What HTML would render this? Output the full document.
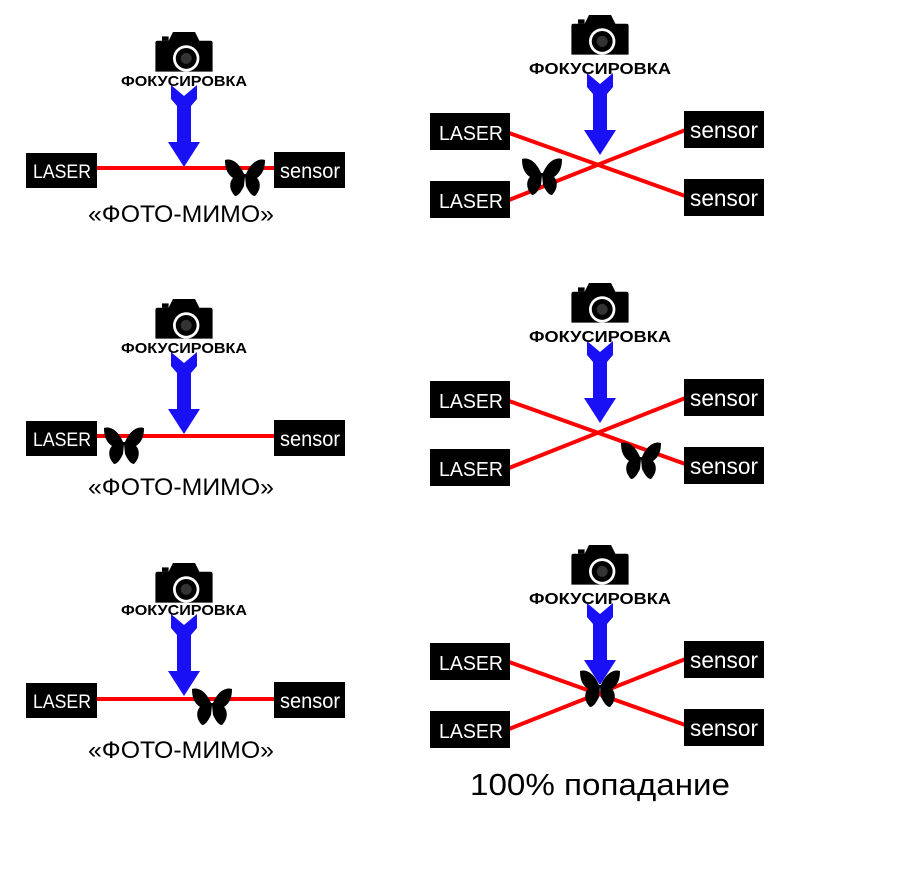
<!DOCTYPE html>
<html><head><meta charset="utf-8"><style>
body{margin:0;background:#fff;}
svg{display:block;}
.t{font-family:"Liberation Sans",sans-serif;}
</style></head><body>
<svg width="899" height="879" viewBox="0 0 899 879" xmlns="http://www.w3.org/2000/svg">
<defs>
<g id="cam">
 <path d="M-24,-12 L-14,-12 L-10,-20 L10,-20 L14,-12 L24,-12 Q26,-12 26,-10 L26,16 L-26,16 L-26,-10 Q-26,-12 -24,-12Z" fill="#000"/>
 <rect x="-20" y="-16" width="6" height="4" fill="#000"/>
 <circle cx="2" cy="4" r="12" fill="#fff"/>
 <circle cx="2" cy="4" r="9.5" fill="#000"/>
 <circle cx="2" cy="4" r="5" fill="#333"/>
</g>
<g id="arr">
 <polygon points="-13,0 0,11 13,0 13,14 7,21 7,57 16,57 0,82 -16,57 -7,57 -7,21 -13,14" fill="#1a10f5"/>
</g>
<g id="bf">
 <path d="M-1,-4 C-6,-16 -14,-20 -20,-18 C-20,-10 -18,-4 -12,0 C-16,4 -16,12 -10,18 C-6,18 -3,12 -1,8 L0,-2 L1,8 C3,12 6,18 10,18 C16,12 16,4 12,0 C18,-4 20,-10 20,-18 C14,-20 6,-16 1,-4 Z" fill="#000"/>
</g>
</defs>

<!-- Left panel 1 -->
<use href="#cam" x="184" y="54" transform="translate(184,54) scale(1.1) translate(-184,-54)"/>
<text x="184" y="86" class="t" font-size="15" font-weight="bold" text-anchor="middle" textLength="126" lengthAdjust="spacingAndGlyphs">ФОКУСИРОВКА</text>
<use href="#arr" x="184" y="85"/>
<line x1="96" y1="168" x2="276" y2="168" stroke="#f00" stroke-width="4"/>
<rect x="26" y="153" width="71" height="35" fill="#000"/>
<text x="62" y="178" class="t" fill="#fff" font-size="19" text-anchor="middle" textLength="58" lengthAdjust="spacingAndGlyphs">LASER</text>
<rect x="274" y="152" width="71" height="36" fill="#000"/>
<text x="310" y="178" class="t" fill="#fff" font-size="21" text-anchor="middle" textLength="60" lengthAdjust="spacingAndGlyphs">sensor</text>
<use href="#bf" x="245" y="178"/>
<text x="181" y="222" class="t" font-size="24" text-anchor="middle" textLength="186" lengthAdjust="spacingAndGlyphs">«ФОТО-МИМО»</text>

<!-- Left panel 2 -->
<use href="#cam" x="184" y="321" transform="translate(184,321) scale(1.1) translate(-184,-321)"/>
<text x="184" y="353" class="t" font-size="15" font-weight="bold" text-anchor="middle" textLength="126" lengthAdjust="spacingAndGlyphs">ФОКУСИРОВКА</text>
<use href="#arr" x="184" y="352"/>
<line x1="96" y1="436" x2="276" y2="436" stroke="#f00" stroke-width="4"/>
<rect x="26" y="421" width="71" height="35" fill="#000"/>
<text x="62" y="446" class="t" fill="#fff" font-size="19" text-anchor="middle" textLength="58" lengthAdjust="spacingAndGlyphs">LASER</text>
<rect x="274" y="420" width="71" height="36" fill="#000"/>
<text x="310" y="446" class="t" fill="#fff" font-size="21" text-anchor="middle" textLength="60" lengthAdjust="spacingAndGlyphs">sensor</text>
<use href="#bf" x="124" y="446"/>
<text x="181" y="495" class="t" font-size="24" text-anchor="middle" textLength="186" lengthAdjust="spacingAndGlyphs">«ФОТО-МИМО»</text>

<!-- Left panel 3 -->
<use href="#cam" x="184" y="585" transform="translate(184,585) scale(1.1) translate(-184,-585)"/>
<text x="184" y="615" class="t" font-size="15" font-weight="bold" text-anchor="middle" textLength="126" lengthAdjust="spacingAndGlyphs">ФОКУСИРОВКА</text>
<use href="#arr" x="184" y="614"/>
<line x1="96" y1="699" x2="276" y2="699" stroke="#f00" stroke-width="4"/>
<rect x="26" y="683" width="71" height="35" fill="#000"/>
<text x="62" y="708" class="t" fill="#fff" font-size="19" text-anchor="middle" textLength="58" lengthAdjust="spacingAndGlyphs">LASER</text>
<rect x="274" y="682" width="71" height="36" fill="#000"/>
<text x="310" y="708" class="t" fill="#fff" font-size="21" text-anchor="middle" textLength="60" lengthAdjust="spacingAndGlyphs">sensor</text>
<use href="#bf" x="212" y="707"/>
<text x="181" y="758" class="t" font-size="24" text-anchor="middle" textLength="186" lengthAdjust="spacingAndGlyphs">«ФОТО-МИМО»</text>

<!-- Right panel 1 -->
<use href="#cam" x="600" y="37" transform="translate(600,37) scale(1.1) translate(-600,-37)"/>
<text x="600" y="74" class="t" font-size="16" font-weight="bold" text-anchor="middle" textLength="142" lengthAdjust="spacingAndGlyphs">ФОКУСИРОВКА</text>
<use href="#arr" x="600" y="73"/>
<line x1="509" y1="133" x2="688" y2="197" stroke="#f00" stroke-width="4"/>
<line x1="509" y1="200" x2="688" y2="129" stroke="#f00" stroke-width="4"/>
<rect x="430" y="113" width="80" height="37" fill="#000"/>
<text x="471" y="140" class="t" fill="#fff" font-size="20" text-anchor="middle" textLength="64" lengthAdjust="spacingAndGlyphs">LASER</text>
<rect x="430" y="181" width="80" height="37" fill="#000"/>
<text x="471" y="208" class="t" fill="#fff" font-size="20" text-anchor="middle" textLength="64" lengthAdjust="spacingAndGlyphs">LASER</text>
<rect x="684" y="111" width="80" height="37" fill="#000"/>
<text x="724" y="138" class="t" fill="#fff" font-size="23" text-anchor="middle" textLength="68" lengthAdjust="spacingAndGlyphs">sensor</text>
<rect x="684" y="179" width="80" height="37" fill="#000"/>
<text x="724" y="206" class="t" fill="#fff" font-size="23" text-anchor="middle" textLength="68" lengthAdjust="spacingAndGlyphs">sensor</text>
<use href="#bf" x="542" y="177"/>

<!-- Right panel 2 -->
<use href="#cam" x="600" y="305" transform="translate(600,305) scale(1.1) translate(-600,-305)"/>
<text x="600" y="342" class="t" font-size="16" font-weight="bold" text-anchor="middle" textLength="142" lengthAdjust="spacingAndGlyphs">ФОКУСИРОВКА</text>
<use href="#arr" x="600" y="341"/>
<line x1="509" y1="401" x2="688" y2="465" stroke="#f00" stroke-width="4"/>
<line x1="509" y1="468" x2="688" y2="397" stroke="#f00" stroke-width="4"/>
<rect x="430" y="381" width="80" height="37" fill="#000"/>
<text x="471" y="408" class="t" fill="#fff" font-size="20" text-anchor="middle" textLength="64" lengthAdjust="spacingAndGlyphs">LASER</text>
<rect x="430" y="449" width="80" height="37" fill="#000"/>
<text x="471" y="476" class="t" fill="#fff" font-size="20" text-anchor="middle" textLength="64" lengthAdjust="spacingAndGlyphs">LASER</text>
<rect x="684" y="379" width="80" height="37" fill="#000"/>
<text x="724" y="406" class="t" fill="#fff" font-size="23" text-anchor="middle" textLength="68" lengthAdjust="spacingAndGlyphs">sensor</text>
<rect x="684" y="447" width="80" height="37" fill="#000"/>
<text x="724" y="474" class="t" fill="#fff" font-size="23" text-anchor="middle" textLength="68" lengthAdjust="spacingAndGlyphs">sensor</text>
<use href="#bf" x="641" y="461"/>

<!-- Right panel 3 -->
<use href="#cam" x="600" y="567" transform="translate(600,567) scale(1.1) translate(-600,-567)"/>
<text x="600" y="604" class="t" font-size="16" font-weight="bold" text-anchor="middle" textLength="142" lengthAdjust="spacingAndGlyphs">ФОКУСИРОВКА</text>
<use href="#arr" x="600" y="603"/>
<line x1="509" y1="662" x2="688" y2="726" stroke="#f00" stroke-width="4"/>
<line x1="509" y1="729" x2="688" y2="658" stroke="#f00" stroke-width="4"/>
<rect x="430" y="643" width="80" height="37" fill="#000"/>
<text x="471" y="670" class="t" fill="#fff" font-size="20" text-anchor="middle" textLength="64" lengthAdjust="spacingAndGlyphs">LASER</text>
<rect x="430" y="711" width="80" height="37" fill="#000"/>
<text x="471" y="738" class="t" fill="#fff" font-size="20" text-anchor="middle" textLength="64" lengthAdjust="spacingAndGlyphs">LASER</text>
<rect x="684" y="641" width="80" height="37" fill="#000"/>
<text x="724" y="668" class="t" fill="#fff" font-size="23" text-anchor="middle" textLength="68" lengthAdjust="spacingAndGlyphs">sensor</text>
<rect x="684" y="709" width="80" height="37" fill="#000"/>
<text x="724" y="736" class="t" fill="#fff" font-size="23" text-anchor="middle" textLength="68" lengthAdjust="spacingAndGlyphs">sensor</text>
<use href="#bf" x="600" y="689"/>
<text x="600" y="795" class="t" font-size="31" text-anchor="middle" textLength="260" lengthAdjust="spacingAndGlyphs">100% попадание</text>
</svg>
</body></html>
